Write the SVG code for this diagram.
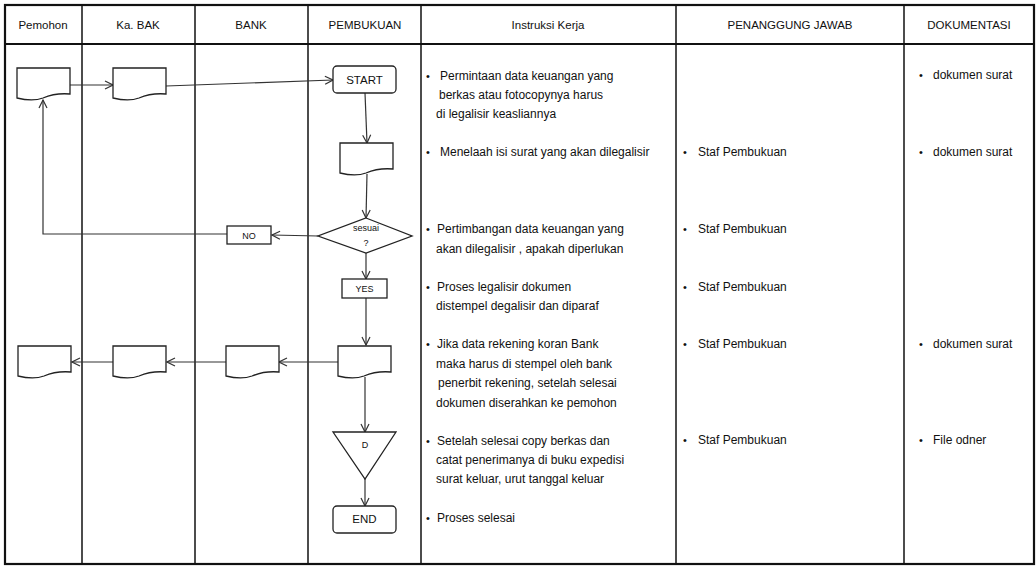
<svg xmlns="http://www.w3.org/2000/svg" xmlns:xlink="http://www.w3.org/1999/xlink" width="1036" height="566" viewBox="0 0 1036 566">
<style>
.grid{stroke:#111;stroke-width:1.5;fill:none}
.frame{stroke:#111;stroke-width:2.2;fill:none}
.shape{stroke:#222;stroke-width:1.3;fill:#fff}
.conn{stroke:#333;stroke-width:1.2;fill:none;marker-end:url(#arr)}
text{font-family:"Liberation Sans",Arial,sans-serif;font-size:12px;fill:#111}
.hd{text-anchor:middle;font-size:11.5px}
.lbl{text-anchor:middle;font-size:9px}
.b{font-size:11px}
</style>
<defs>
<marker id="arr" viewBox="0 0 10 10" refX="9" refY="5" markerWidth="10" markerHeight="10" markerUnits="userSpaceOnUse" orient="auto">
<path d="M1,1 L9,5 L1,9" fill="none" stroke="#333" stroke-width="1.2"/>
</marker>
<path id="doc" d="M0,0 H53 V26 C41,25 33,27 26,30 C18,33 8,32 0,30 Z"/>
</defs>

<g id="table">
<rect class="frame" x="5" y="5" width="1029" height="559"/>
<line class="frame" x1="5" y1="44" x2="1034" y2="44"/>
<line class="grid" x1="82" y1="5" x2="82" y2="564"/>
<line class="grid" x1="195" y1="5" x2="195" y2="564"/>
<line class="grid" x1="308" y1="5" x2="308" y2="564"/>
<line class="grid" x1="421" y1="5" x2="421" y2="564"/>
<line class="grid" x1="676" y1="5" x2="676" y2="564"/>
<line class="grid" x1="904" y1="5" x2="904" y2="564"/>
<text class="hd" x="43" y="29">Pemohon</text>
<text class="hd" x="138" y="29">Ka. BAK</text>
<text class="hd" x="251" y="29">BANK</text>
<text class="hd" x="365" y="29">PEMBUKUAN</text>
<text class="hd" x="548" y="29">Instruksi Kerja</text>
<text class="hd" x="790" y="29">PENANGGUNG JAWAB</text>
<text class="hd" x="969" y="29">DOKUMENTASI</text>
</g>

<g id="connectors">
<line class="conn" x1="69" y1="85" x2="113" y2="85"/>
<line class="conn" x1="166" y1="86" x2="333" y2="80"/>
<line class="conn" x1="365" y1="93" x2="367" y2="143"/>
<line class="conn" x1="367" y1="174" x2="366" y2="218"/>
<line class="conn" x1="318" y1="236" x2="272" y2="235"/>
<polyline class="conn" points="227,234 43,234 43,100"/>
<line class="conn" x1="366" y1="253" x2="366" y2="279"/>
<line class="conn" x1="366" y1="298" x2="366" y2="345"/>
<line class="conn" x1="338" y1="362" x2="279" y2="362"/>
<line class="conn" x1="226" y1="362" x2="167" y2="362"/>
<line class="conn" x1="113" y1="362" x2="72" y2="362"/>
<line class="conn" x1="365" y1="377" x2="365" y2="432"/>
<line class="conn" x1="365" y1="479" x2="365" y2="506"/>
</g>

<g id="doc-pemohon-1"><use href="#doc" class="shape" transform="translate(17,68)"/></g>
<g id="doc-kabak-1"><use href="#doc" class="shape" transform="translate(113,68)"/></g>
<g id="start"><rect class="shape" x="333" y="66" width="63" height="27" rx="4"/><text class="hd" x="364.5" y="84">START</text></g>
<g id="doc-pembukuan-1"><use href="#doc" class="shape" transform="translate(340,143)"/></g>
<g id="decision"><polygon class="shape" points="366,218 412,236 366,253 318,236"/><text class="lbl" x="366" y="231">sesuai</text><text class="lbl" x="366" y="246">?</text></g>
<g id="no"><rect class="shape" x="227" y="226" width="44" height="18"/><text class="lbl" x="249" y="238.5">NO</text></g>
<g id="yes"><rect class="shape" x="342" y="279" width="45" height="19"/><text class="lbl" x="364.5" y="292">YES</text></g>
<g id="doc-pembukuan-2"><use href="#doc" class="shape" transform="translate(338,346)"/></g>
<g id="doc-bank"><use href="#doc" class="shape" transform="translate(226,346)"/></g>
<g id="doc-kabak-2"><use href="#doc" class="shape" transform="translate(113,346)"/></g>
<g id="doc-pemohon-2"><use href="#doc" class="shape" transform="translate(18,346)"/></g>
<g id="archive"><polygon class="shape" points="333,432 396,432 365,479"/><text class="lbl" x="365" y="448">D</text></g>
<g id="end"><rect class="shape" x="333" y="506" width="63" height="27" rx="4"/><text class="hd" x="364.5" y="523">END</text></g>

<g id="instruksi">
<text class="b" x="426" y="80">•</text><text x="440" y="80">Permintaan data keuangan yang</text>
<text x="439" y="99">berkas atau fotocopynya harus</text>
<text x="436" y="118">di legalisir keasliannya</text>
<text class="b" x="426" y="156">•</text><text x="440" y="156">Menelaah isi surat yang akan dilegalisir</text>
<text class="b" x="426" y="233">•</text><text x="437" y="233">Pertimbangan data keuangan yang</text>
<text x="436" y="253">akan dilegalisir , apakah diperlukan</text>
<text class="b" x="426" y="291">•</text><text x="437" y="291">Proses legalisir dokumen</text>
<text x="436" y="310">distempel degalisir dan diparaf</text>
<text class="b" x="426" y="348">•</text><text x="437" y="348">Jika data rekening koran Bank</text>
<text x="436" y="368">maka harus di stempel oleh bank</text>
<text x="438" y="387">penerbit rekening, setelah selesai</text>
<text x="436" y="407">dokumen diserahkan ke pemohon</text>
<text class="b" x="426" y="445">•</text><text x="437" y="445">Setelah selesai copy berkas dan</text>
<text x="436" y="464">catat penerimanya di buku expedisi</text>
<text x="436" y="483">surat keluar, urut tanggal keluar</text>
<text class="b" x="426" y="522">•</text><text x="437" y="522">Proses selesai</text>
</g>

<g id="penanggung-jawab">
<text class="b" x="683" y="156">•</text><text x="698" y="156">Staf Pembukuan</text>
<text class="b" x="683" y="233">•</text><text x="698" y="233">Staf Pembukuan</text>
<text class="b" x="683" y="291">•</text><text x="698" y="291">Staf Pembukuan</text>
<text class="b" x="683" y="348">•</text><text x="698" y="348">Staf Pembukuan</text>
<text class="b" x="683" y="444">•</text><text x="698" y="444">Staf Pembukuan</text>
</g>

<g id="dokumentasi">
<text class="b" x="919" y="79">•</text><text x="933" y="79">dokumen surat</text>
<text class="b" x="919" y="156">•</text><text x="933" y="156">dokumen surat</text>
<text class="b" x="919" y="348">•</text><text x="933" y="348">dokumen surat</text>
<text class="b" x="919" y="444">•</text><text x="933" y="444">File odner</text>
</g>
</svg>
